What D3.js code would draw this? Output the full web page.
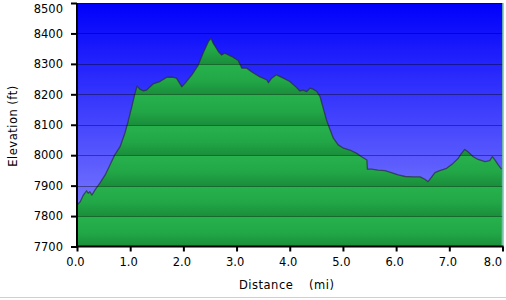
<!DOCTYPE html>
<html>
<head>
<meta charset="utf-8">
<script src="https://cdn.jsdelivr.net/npm/d3@7"></script>
<style>
  html, body { margin: 0; padding: 0; background: #fff; }
  svg { display: block; }
  .axis text { font-family: "DejaVu Sans", Verdana, sans-serif; font-size: 11.5px; fill: #000; }
  .title { font-family: "DejaVu Sans", Verdana, sans-serif; font-size: 11.5px; fill: #000; letter-spacing: 0.5px; }
</style>
</head>
<body>
<svg id="chart" width="506" height="300"></svg>
<script>
// distance along the trail (mi)
var distance = [
  0.00, 0.06, 0.12, 0.18, 0.21, 0.24, 0.28, 0.34, 0.43, 0.53, 0.62, 0.71, 0.81, 0.90, 0.96,
  1.03, 1.09, 1.13, 1.18, 1.25, 1.31, 1.43, 1.56, 1.69, 1.81, 1.87, 1.97,
  2.03, 2.16, 2.28, 2.37, 2.47, 2.52, 2.56, 2.66, 2.72, 2.78, 2.91,
  3.03, 3.10, 3.19, 3.28, 3.41, 3.57, 3.60, 3.66, 3.75, 3.88,
  4.00, 4.13, 4.19, 4.25, 4.32, 4.38, 4.44, 4.51, 4.57, 4.63, 4.69, 4.76, 4.82, 4.91,
  5.01, 5.13, 5.26, 5.35, 5.45, 5.46, 5.54, 5.66, 5.79, 5.91,
  6.04, 6.17, 6.32, 6.45, 6.54, 6.60, 6.67, 6.73, 6.82, 6.95,
  7.07, 7.17, 7.23, 7.29, 7.35, 7.45, 7.54, 7.67, 7.76, 7.81, 7.86, 7.92, 7.98
];
// elevation (ft)
var elevation = [
  7836, 7847, 7869, 7883, 7875, 7880, 7869, 7886, 7908, 7935, 7968, 8001, 8028, 8072, 8110,
  8159, 8203, 8227, 8217, 8211, 8214, 8234, 8242, 8256, 8256, 8253, 8225,
  8236, 8264, 8296, 8335, 8373, 8384, 8368, 8340, 8329, 8335, 8324,
  8311, 8286, 8286, 8274, 8260, 8247, 8238, 8253, 8264, 8253,
  8242, 8222, 8211, 8214, 8209, 8220, 8217, 8209, 8192, 8154, 8116, 8083, 8056, 8034,
  8023, 8017, 8006, 7995, 7984, 7954, 7954, 7951, 7949, 7943,
  7935, 7930, 7929, 7929, 7921, 7913, 7929, 7943, 7949, 7957,
  7973, 7990, 8006, 8019, 8011, 7995, 7986, 7979, 7982, 7995, 7984, 7968, 7954
];
var xTicks = [0, 1, 2, 3, 4, 5, 6, 7, 8];
var yTicks = [7700, 7800, 7900, 8000, 8100, 8200, 8300, 8400, 8500];

var plotLeft = 77, plotRight = 502.5, plotTop = 3, plotBottom = 246.5;

var svg = d3.select("#chart");
var defs = svg.append("defs");

var x = d3.scaleLinear().domain([0, 8]).range([plotLeft, plotRight]);
var y = d3.scaleLinear().domain([7700, 8500]).range([plotBottom, plotTop]);

// sky gradient
var sky = defs.append("linearGradient").attr("id", "sky")
    .attr("x1", 0).attr("y1", 0).attr("x2", 0).attr("y2", 1);
sky.append("stop").attr("offset", "0%").attr("stop-color", "#0000fb");
sky.append("stop").attr("offset", "100%").attr("stop-color", "#8c8cff");

// ground gradient, repeated for every 100 ft band
var band = y(7700) - y(7800);
var ground = defs.append("linearGradient").attr("id", "ground")
    .attr("gradientUnits", "userSpaceOnUse")
    .attr("spreadMethod", "repeat")
    .attr("x1", 0).attr("y1", y(8500)).attr("x2", 0).attr("y2", y(8500) + band);
ground.append("stop").attr("offset", "0%").attr("stop-color", "#27b24d");
ground.append("stop").attr("offset", "55%").attr("stop-color", "#22a747");
ground.append("stop").attr("offset", "100%").attr("stop-color", "#1a8e3b");

defs.append("clipPath").attr("id", "plotClip")
  .append("rect")
    .attr("x", plotLeft).attr("y", plotTop)
    .attr("width", plotRight - plotLeft).attr("height", plotBottom - plotTop);

svg.append("rect")
    .attr("x", plotLeft).attr("y", plotTop)
    .attr("width", plotRight - plotLeft).attr("height", plotBottom - plotTop)
    .attr("fill", "url(#sky)");

var points = distance.map(function (d, i) { return [d, elevation[i]]; });

var plot = svg.append("g").attr("clip-path", "url(#plotClip)");

plot.append("path")
    .datum(points)
    .attr("fill", "url(#ground)")
    .attr("d", d3.area()
        .x(function (d) { return x(d[0]); })
        .y0(plotBottom)
        .y1(function (d) { return y(d[1]); }));

plot.append("path")
    .datum(points)
    .attr("fill", "none")
    .attr("stroke", "#2a2a3a")
    .attr("stroke-opacity", 0.7)
    .attr("stroke-width", 1.3)
    .attr("stroke-linejoin", "round")
    .attr("d", d3.line()
        .x(function (d) { return x(d[0]); })
        .y(function (d) { return y(d[1]); }));

// horizontal grid
plot.selectAll("line.grid")
    .data(yTicks.slice(1))
  .enter().append("line")
    .attr("class", "grid")
    .attr("x1", plotLeft).attr("x2", plotRight)
    .attr("y1", function (d) { return Math.round(y(d)) + 0.5; })
    .attr("y2", function (d) { return Math.round(y(d)) + 0.5; })
    .attr("stroke", "#000")
    .attr("stroke-opacity", 0.4);

// thin green edge at the right of the plot
svg.append("line")
    .attr("x1", plotRight + 0.5).attr("x2", plotRight + 0.5)
    .attr("y1", plotTop).attr("y2", plotBottom)
    .attr("stroke", "#4fc070").attr("stroke-width", 1.2);

// axes
var yAxis = svg.append("g").attr("class", "axis")
    .attr("transform", "translate(" + plotLeft + ",0)")
    .call(d3.axisLeft(y).tickValues(yTicks).tickSize(6).tickPadding(8).tickFormat(d3.format("d")));
var xAxis = svg.append("g").attr("class", "axis")
    .attr("transform", "translate(0," + plotBottom + ")")
    .call(d3.axisBottom(x).tickValues(xTicks).tickSize(5).tickPadding(6).tickFormat(d3.format(".1f")));

[yAxis, xAxis].forEach(function (a) {
    a.select(".domain").attr("stroke", "#000").attr("stroke-width", 2);
    a.selectAll(".tick line").attr("stroke", "#000").attr("stroke-width", 2);
});
// keep the end labels inside the picture
xAxis.selectAll(".tick text").attr("dx", function (d) { return d === 8 ? -10 : -2; });
yAxis.selectAll(".tick text").attr("dy", function (d) { return d === 8500 ? "0.82em" : "0.32em"; });
yAxis.select(".domain").attr("d", "M0," + plotTop + "V" + (plotBottom + 1));
xAxis.select(".domain").attr("d", "M" + (plotLeft - 1) + ",0H" + (plotRight + 1));

// titles
svg.append("text").attr("class", "title")
    .attr("transform", "translate(17,126) rotate(-90)")
    .attr("text-anchor", "middle")
    .text("Elevation (ft)");
svg.append("text").attr("class", "title")
    .attr("x", 239).attr("y", 288.5)
    .text("Distance");
svg.append("text").attr("class", "title")
    .attr("x", 309).attr("y", 288.5)
    .text("(mi)");

// bottom frame line
svg.append("rect")
    .attr("x", 0).attr("y", 297).attr("width", 506).attr("height", 1)
    .attr("fill", "#cfcfcf");
</script>
</body>
</html>
